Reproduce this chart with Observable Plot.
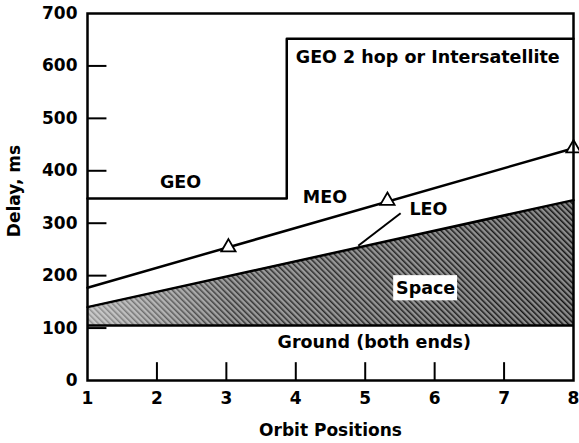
<!DOCTYPE html>
<html>
<head>
<meta charset="utf-8">
<script src="https://cdn.jsdelivr.net/npm/d3@7"></script>
<script src="https://cdn.jsdelivr.net/npm/@observablehq/plot@0.6"></script>
<style>
  html, body { margin: 0; padding: 0; background: white; }
</style>
</head>
<body>
<div id="chart"></div>
<script>
// ---- data ----
const xTicks = [1, 2, 3, 4, 5, 6, 7, 8];
const yTicks = [0, 100, 200, 300, 400, 500, 600, 700];
const xTitle = "Orbit Positions";
const yTitle = "Delay, ms";

const geoX = [1, 3.87, 3.87, 8];
const geoY = [347, 347, 652, 652];

const meoX = [1, 8];
const meoY = [177, 443];

const leoX = [1, 8];
const leoY = [140, 344];

const groundDelay = 105;

const meoMarkerX = [3.03, 5.32, 8];
const meoMarkerY = [254, 343, 443];

const labelText = ["GEO", "GEO 2 hop or Intersatellite", "MEO", "LEO", "Ground (both ends)"];
const labelX = [2.34, 4.0, 4.42, 5.91, 5.13];
const labelY = [377, 616, 349, 326, 72];
const labelAnchor = ["middle", "start", "middle", "middle", "middle"];

const spaceLabel = {text: "Space", x: 5.87, y: 176};

const leaderFrom = {x: 5.51, y: 319};
const leaderTo = {x: 4.9, y: 257};

// ---- derived tables ----
const line = (xs, ys) => xs.map((x, i) => ({x, y: ys[i]}));
const spaceArea = leoX.map((x, i) => ({x, y1: groundDelay, y2: leoY[i]}));
const labels = labelText.map((t, i) => ({t, x: labelX[i], y: labelY[i], a: labelAnchor[i]}));
const markers = line(meoMarkerX, meoMarkerY);

const font = "DejaVu Sans, Verdana, sans-serif";

// style constants (inward tick lengths and label box size, in data units)
const yTickLen = 0.28;
const xTickLen = 34;
const boxHalfW = 0.46;
const boxHalfH = 24;

const chart = Plot.plot({
  width: 579,
  height: 443,
  marginLeft: 87,
  marginRight: 6,
  marginTop: 13,
  marginBottom: 63,
  style: {fontFamily: font, fontWeight: "bold", fontSize: "17px", color: "black", background: "white", overflow: "visible"},
  x: {domain: [1, 8]},
  y: {domain: [0, 700]},
  marks: [
    Plot.areaY(spaceArea, {x: "x", y1: "y1", y2: "y2", fill: "url(#stipple)"}),
    Plot.areaY(spaceArea, {x: "x", y1: "y1", y2: "y2", fill: "url(#fadeLeft)"}),
    Plot.ruleY([groundDelay], {stroke: "black", strokeWidth: 2.5}),
    Plot.line(line(geoX, geoY), {x: "x", y: "y", stroke: "black", strokeWidth: 2.5}),
    Plot.line(line(meoX, meoY), {x: "x", y: "y", stroke: "black", strokeWidth: 2.5}),
    Plot.line(line(leoX, leoY), {x: "x", y: "y", stroke: "black", strokeWidth: 2.5}),
    Plot.link([{a: leaderFrom, b: leaderTo}], {x1: d => d.a.x, y1: d => d.a.y, x2: d => d.b.x, y2: d => d.b.y, stroke: "black", strokeWidth: 2}),
    Plot.dot(markers, {x: "x", y: "y", symbol: "triangle", r: 5.3, fill: "white", stroke: "black", strokeWidth: 1.8}),
    Plot.text(labels.filter(d => d.a === "middle"), {x: "x", y: "y", text: "t", textAnchor: "middle", fontSize: 17.5, fontWeight: "bold", fill: "black"}),
    Plot.text(labels.filter(d => d.a === "start"), {x: "x", y: "y", text: "t", textAnchor: "start", fontSize: 17.5, fontWeight: "bold", fill: "black"}),
    Plot.rect([spaceLabel], {x1: d => d.x - boxHalfW, x2: d => d.x + boxHalfW, y1: d => d.y - boxHalfH, y2: d => d.y + boxHalfH, fill: "white"}),
    Plot.text([spaceLabel], {x: "x", y: "y", text: "text", fontSize: 17.5, fontWeight: "bold", fill: "black"}),
    Plot.ruleY(yTicks.filter(v => v > 0 && v < 700), {y: d => d, x1: xTicks[0], x2: xTicks[0] + yTickLen, stroke: "black", strokeWidth: 2}),
    Plot.ruleX(xTicks.filter(v => v > 1 && v < 8), {x: d => d, y1: yTicks[0], y2: yTicks[0] + xTickLen, stroke: "black", strokeWidth: 2}),
    Plot.frame({stroke: "black", strokeWidth: 2.5}),
    Plot.axisY(yTicks, {tickSize: 0, tickPadding: 10, label: null, fontSize: 17}),
    Plot.axisX(xTicks, {tickSize: 0, tickPadding: 11, label: null, fontSize: 17}),
    Plot.text([yTitle], {frameAnchor: "left", textAnchor: "middle", lineAnchor: "middle", rotate: -90, dx: -73, dy: -6, text: d => d, fontSize: 17, fontWeight: "bold", fill: "black"}),
    Plot.text([xTitle], {frameAnchor: "bottom", textAnchor: "middle", dy: 55, text: d => d, fontSize: 17, fontWeight: "bold", fill: "black"})
  ]
});

document.getElementById("chart").appendChild(chart);

// texture for the "Space" band
const svg = d3.select(chart.tagName.toLowerCase() === "svg" ? chart : chart.querySelector("svg"));
const defs = svg.insert("defs", ":first-child");
const pat = defs.append("pattern")
  .attr("id", "stipple")
  .attr("patternUnits", "userSpaceOnUse")
  .attr("width", 4).attr("height", 4)
  .attr("patternTransform", "rotate(-45)");
pat.append("rect").attr("width", 4).attr("height", 4).attr("fill", "#8c8c8c");
pat.append("rect").attr("width", 1.5).attr("height", 4).attr("fill", "#111");
const grad = defs.append("linearGradient")
  .attr("id", "fadeLeft")
  .attr("x1", "0").attr("x2", "1").attr("y1", "0").attr("y2", "0");
grad.append("stop").attr("offset", "0").attr("stop-color", "white").attr("stop-opacity", 0.55);
grad.append("stop").attr("offset", "0.3").attr("stop-color", "white").attr("stop-opacity", 0.15);
grad.append("stop").attr("offset", "1").attr("stop-color", "white").attr("stop-opacity", 0);
</script>
</body>
</html>
